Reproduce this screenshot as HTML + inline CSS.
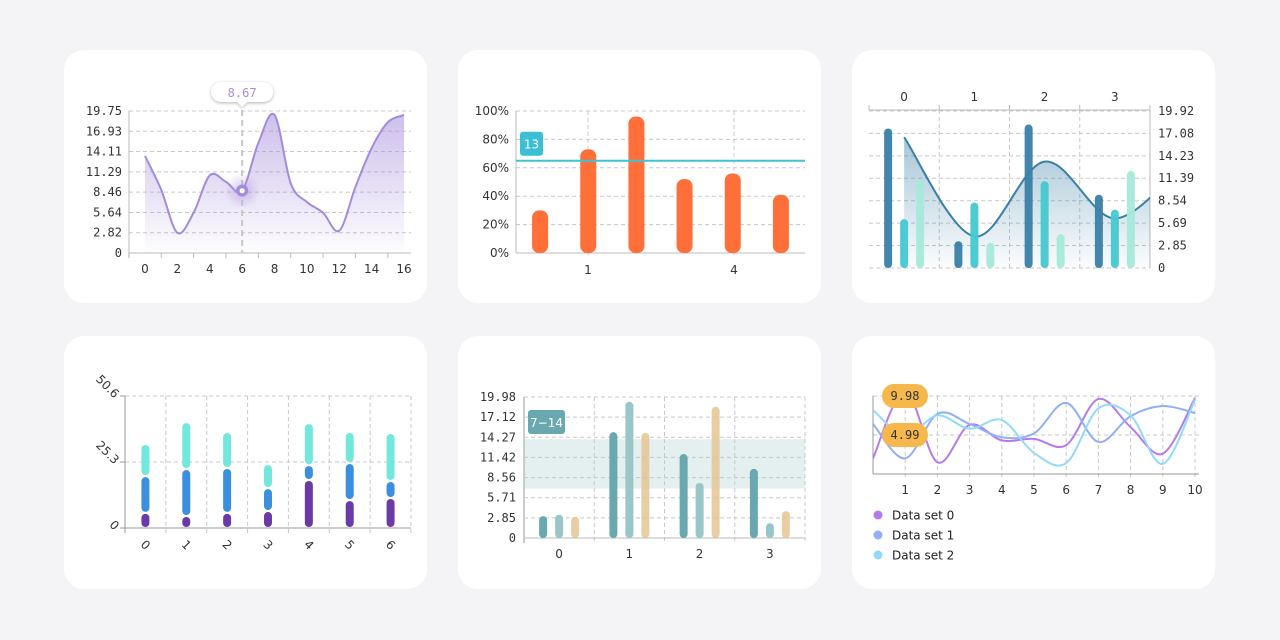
<!DOCTYPE html>
<html><head><meta charset="utf-8">
<style>
html,body{margin:0;padding:0;background:#f4f4f6;}
svg{display:block;}
.mono{font-family:"DejaVu Sans Mono","Liberation Mono",monospace;font-size:12px;fill:#333;}
.sans{font-family:"DejaVu Sans","Liberation Sans",sans-serif;font-size:12px;fill:#333;}
</style></head>
<body>
<svg id="root" width="1280" height="640" viewBox="0 0 1280 640">
<defs>
<linearGradient id="g1" x1="0" y1="0" x2="0" y2="1"><stop offset="0" stop-color="#a48bdb" stop-opacity="0.55"/><stop offset="1" stop-color="#a48bdb" stop-opacity="0.02"/></linearGradient>
<linearGradient id="g3" x1="0" y1="0" x2="0" y2="1"><stop offset="0" stop-color="#3a80a6" stop-opacity="0.45"/><stop offset="1" stop-color="#3a80a6" stop-opacity="0.02"/></linearGradient>
<radialGradient id="glow"><stop offset="0" stop-color="#a48bdb" stop-opacity="0.5"/><stop offset="1" stop-color="#a48bdb" stop-opacity="0"/></radialGradient>
<clipPath id="clip3"><rect x="869" y="100" width="281" height="170"/></clipPath>
<clipPath id="clip6"><rect x="873" y="380" width="326" height="96"/></clipPath>
<filter id="sh" x="-30%" y="-30%" width="160%" height="180%"><feDropShadow dx="0" dy="1" stdDeviation="1.5" flood-opacity="0.3"/></filter>
</defs>
<rect x="64" y="50" width="363" height="253" rx="20" fill="#fff"/>
<rect x="458" y="50" width="363" height="253" rx="20" fill="#fff"/>
<rect x="852" y="50" width="363" height="253" rx="20" fill="#fff"/>
<rect x="64" y="336" width="363" height="253" rx="20" fill="#fff"/>
<rect x="458" y="336" width="363" height="253" rx="20" fill="#fff"/>
<rect x="852" y="336" width="363" height="253" rx="20" fill="#fff"/>
</svg>
<script>
// ---- Chart 1 data
const c1Ticks = ["0","2.82","5.64","8.46","11.29","14.11","16.93","19.75"];
const c1Values = [13.5,8.8,2.8,5.6,10.8,9.9,8.67,15.3,19.2,9.7,7.1,5.6,3.1,9.2,14.6,18.2,19.2];
const c1XLabels = ["0","2","4","6","8","10","12","14","16"];
const c1Tooltip = "8.67";
// ---- Chart 2 data
const c2Values = [30,73,96,52,56,41];
const c2Ticks = ["0%","20%","40%","60%","80%","100%"];
const c2XLabels = ["1","4"];
const c2Line = 65;
const c2LineLabel = "13";
// ---- Chart 3 data
const c3Cats = ["0","1","2","3"];
const c3SeriesA = [17.7,3.4,18.2,9.3];
const c3SeriesB = [6.2,8.3,11.0,7.4];
const c3SeriesC = [11.1,3.2,4.3,12.3];
const c3Line = [16.6,4.0,13.5,6.3,13.5];
const c3Ticks = ["0","2.85","5.69","8.54","11.39","14.23","17.08","19.92"];
// ---- Chart 4 data
const c4Cats = ["0","1","2","3","4","5","6"];
const c4Bottom = [5.8,4.6,5.8,6.5,18.4,10.7,11.5];
const c4Middle = [14.1,18.0,17.2,8.8,5.7,14.2,6.5];
const c4Top = [12.3,18.0,13.8,9.2,16.1,11.9,18.4];
const c4Ticks = ["0","25.3","50.6"];
// ---- Chart 5 data
const c5Cats = ["0","1","2","3"];
const c5SeriesA = [3.1,15.0,11.9,9.8];
const c5SeriesB = [3.3,19.3,7.8,2.1];
const c5SeriesC = [3.0,14.9,18.6,3.8];
const c5Band = [7,14];
const c5BandLabel = "7−14";
const c5Ticks = ["0","2.85","5.71","8.56","11.42","14.27","17.12","19.98"];
// ---- Chart 6 data
const c6Set0 = [2.0,10.6,1.5,6.3,4.3,4.5,3.7,9.6,6.0,2.6,9.7];
const c6Set1 = [6.4,2.0,7.7,6.4,4.7,5.2,9.1,4.1,7.4,8.7,7.8];
const c6Set2 = [8.2,4.9,7.5,5.8,6.9,2.7,1.4,8.4,7.5,1.3,9.5];
const c6XLabels = ["1","2","3","4","5","6","7","8","9","10"];
const c6Ticks = ["4.99","9.98"];
const c6Legend = ["Data set 0","Data set 1","Data set 2"];

const NS = "http://www.w3.org/2000/svg";
const root = document.getElementById("root");
function mk(tag, attrs, parent){const e=document.createElementNS(NS,tag);for(const k in attrs)e.setAttribute(k,attrs[k]);(parent||root).appendChild(e);return e;}
function txt(s, attrs){const e=mk("text",attrs);e.textContent=s;return e;}
function smooth(p){let d="M"+p[0][0]+","+p[0][1];for(let i=0;i<p.length-1;i++){const p0=p[i-1]||p[i],p1=p[i],p2=p[i+1],p3=p[i+2]||p2;const c1x=p1[0]+(p2[0]-p0[0])/6,c1y=p1[1]+(p2[1]-p0[1])/6,c2x=p2[0]-(p3[0]-p1[0])/6,c2y=p2[1]-(p3[1]-p1[1])/6;d+=" C"+c1x+","+c1y+" "+c2x+","+c2y+" "+p2[0]+","+p2[1];}return d;}
const GRID={stroke:"#c8c8c8","stroke-dasharray":"4,3","stroke-width":1};
let e;

// ================= Chart 1
const c1Max=19.75;
const x1=i=>145+i*16.19, y1=v=>253-v/c1Max*142;
c1Ticks.forEach((t,i)=>{const v=parseFloat(t);const yy=y1(v);
 if(i>0){e=mk("line",Object.assign({x1:129,x2:411,y1:yy,y2:yy},GRID));
 
 }
 e=txt(t,{x:122,y:yy+4,"text-anchor":"end",class:"mono"});
 
 });
e=mk("line",{x1:129,x2:129,y1:111,y2:258,stroke:"#bbb"});


e=mk("line",{x1:129,x2:411,y1:253,y2:253,stroke:"#bbb"});


for(let k=0;k<=8;k++){e=mk("line",{x1:x1(2*k-1),x2:x1(2*k-1),y1:253,y2:258,stroke:"#bbb"});
 
 }
c1XLabels.forEach(l=>{e=txt(l,{x:x1(+l),y:273,"text-anchor":"middle",class:"sans"});
 
 });
const p1=c1Values.map((v,i)=>[x1(i),y1(v)]);
const d1=smooth(p1);
e=mk("path",{d:d1+" L"+x1(c1Values.length-1)+",253 L"+x1(0)+",253 Z",fill:"url(#g1)"});


e=mk("path",{d:d1,fill:"none",stroke:"#a48bdb","stroke-width":2});


const tipI=6, tx=x1(tipI), ty=y1(c1Values[tipI]);
e=mk("line",{x1:tx,x2:tx,y1:100,y2:253,stroke:"#c8c8c8","stroke-dasharray":"6,4","stroke-width":2});


e=mk("circle",{cx:tx,cy:ty,r:18,fill:"url(#glow)"});


e=mk("circle",{cx:tx,cy:ty,r:6,fill:"#a48bdb"});


mk("circle",{cx:tx,cy:ty,r:2.6,fill:"#fff"});
e=mk("path",{d:`M${tx-21},82 h42 a10,10 0 0 1 0,20 h-16 l-5,5 l-5,-5 h-16 a10,10 0 0 1 0,-20 Z`,fill:"#fff",filter:"url(#sh)"});


e=txt(c1Tooltip,{x:tx,y:97,"text-anchor":"middle",class:"mono",style:"fill:#a48bdb"});



// ================= Chart 2
const y2=v=>253-v/100*142, cw2=(805-516)/c2Values.length, x2=i=>516+cw2*(i+0.5);
c2Ticks.forEach((t,i)=>{const yy=y2(i*20);
 if(i>0){e=mk("line",Object.assign({x1:516,x2:805,y1:yy,y2:yy},GRID));
 
 }
 e=txt(t,{x:509,y:yy+4,"text-anchor":"end",class:"sans","font-size":13});
 
 });
c2XLabels.forEach(l=>{const gx=516+(+l)*cw2*1.5*0+ (l==="1"?72:218);
 e=mk("line",Object.assign({x1:gx,x2:gx,y1:111,y2:258},GRID));
 
 
 e=txt(l,{x:gx,y:274,"text-anchor":"middle",class:"sans","font-size":13});
 
 });
e=mk("line",{x1:516,x2:516,y1:111,y2:253,stroke:"#bbb"});


e=mk("line",{x1:516,x2:805,y1:253,y2:253,stroke:"#bbb"});


c2Values.forEach((v,i)=>{const yy=y2(v);
 e=mk("rect",{x:x2(i)-8,y:yy,width:16,height:253-yy,rx:7,fill:"#ff6f3a"});
 
 });
e=mk("line",{x1:516,x2:805,y1:y2(c2Line),y2:y2(c2Line),stroke:"#3bc4d6","stroke-width":2});


e=mk("rect",{x:520,y:y2(c2Line)-29,width:23,height:24,rx:3,fill:"#3bbfd4"});


e=txt(c2LineLabel,{x:531.5,y:y2(c2Line)-12,"text-anchor":"middle",class:"sans",style:"fill:#fff"});



// ================= Chart 3
const c3Max=19.92, y3=v=>268-v/c3Max*157, cw3=(1150-869)/c3Cats.length, x3=i=>869+cw3*(i+0.5);
c3Ticks.forEach(t=>{const yy=y3(parseFloat(t));
 e=mk("line",Object.assign({x1:869,x2:1150,y1:yy,y2:yy},GRID));
 
 
 e=txt(t,{x:1158,y:yy+4,class:"mono"});
 
 });
for(let k=0;k<=c3Cats.length;k++){const gx=869+cw3*k;
 if(k>0&&k<c3Cats.length){e=mk("line",Object.assign({x1:gx,x2:gx,y1:110,y2:268},GRID));
 
 }
 e=mk("line",{x1:gx,x2:gx,y1:105,y2:110,stroke:"#bbb"});
 
 }
c3Cats.forEach((c,i)=>{e=txt(c,{x:x3(i),y:101,"text-anchor":"middle",class:"sans"});
 
 });
e=mk("line",{x1:869,x2:1150,y1:110,y2:110,stroke:"#bbb"});


e=mk("line",{x1:1150,x2:1150,y1:110,y2:268,stroke:"#bbb"});


const p3=c3Line.map((v,i)=>[x3(i),y3(v)]);
const d3=smooth(p3);
const g3=mk("g",{"clip-path":"url(#clip3)"});
e=mk("path",{d:d3+" L"+p3[p3.length-1][0]+",268 L"+p3[0][0]+",268 Z",fill:"url(#g3)"},g3);


[[c3SeriesA,"#3a80a6",-16],[c3SeriesB,"#45c8d0",0],[c3SeriesC,"#a6e9d9",16]].forEach(([s,col,off])=>{
 s.forEach((v,i)=>{const yy=y3(v);
  e=mk("rect",{x:x3(i)+off-4,y:yy,width:8,height:268-yy,rx:4,fill:col,opacity:0.95});
  
  });});
e=mk("path",{d:d3,fill:"none",stroke:"#3a80a6","stroke-width":2},g3);



// ================= Chart 4
const c4Max=50.6, y4=v=>528-v/c4Max*132, cw4=(411-125)/c4Cats.length, x4=i=>125+cw4*(i+0.5);
c4Ticks.forEach(t=>{const yy=y4(parseFloat(t));
 if(parseFloat(t)>0){e=mk("line",Object.assign({x1:125,x2:411,y1:yy,y2:yy},GRID));
 
 }
 e=mk("line",{x1:120,x2:125,y1:yy,y2:yy,stroke:"#999"});
 
 
 e=txt(t,{x:117,y:yy+4,"text-anchor":"end",class:"sans",transform:`rotate(45 117 ${yy})`});
 
 });
for(let k=1;k<=c4Cats.length;k++){const gx=125+cw4*k;
 e=mk("line",Object.assign({x1:gx,x2:gx,y1:396,y2:533},GRID));
 
 }
e=mk("line",{x1:125,x2:125,y1:396,y2:533,stroke:"#999"});


e=mk("line",{x1:120,x2:411,y1:528,y2:528,stroke:"#999"});


c4Cats.forEach((c,i)=>{
 e=txt(c,{x:x4(i),y:549,"text-anchor":"middle",class:"sans",transform:`rotate(45 ${x4(i)} 545)`});
 
 
 let base=0;
 [[c4Bottom,"#6a3aa6"],[c4Middle,"#3a8fdf"],[c4Top,"#72e8dc"]].forEach(([s,col])=>{
  const y0=y4(base), yt=y4(base+s[i]);
  e=mk("rect",{x:x4(i)-4,y:yt+1,width:8,height:Math.max(y0-yt-2,1),rx:4,fill:col});
  
  
  base+=s[i];});});

// ================= Chart 5
const c5Max=19.98, y5=v=>538-v/c5Max*141, cw5=(805-524)/c5Cats.length, x5=i=>524+cw5*(i+0.5);
e=mk("rect",{x:524,y:y5(c5Band[1]),width:281,height:y5(c5Band[0])-y5(c5Band[1]),fill:"#e4eff0"});


c5Ticks.forEach(t=>{const yy=y5(parseFloat(t));
 if(parseFloat(t)>0){e=mk("line",Object.assign({x1:524,x2:805,y1:yy,y2:yy},GRID));
 
 }
 e=txt(t,{x:516,y:yy+4,"text-anchor":"end",class:"mono"});
 
 });
for(let k=1;k<=c5Cats.length;k++){const gx=524+cw5*k;
 e=mk("line",Object.assign({x1:gx,x2:gx,y1:397,y2:543},GRID));
 
 }
e=mk("line",{x1:524,x2:524,y1:397,y2:543,stroke:"#ccc","stroke-width":2});


e=mk("line",{x1:524,x2:805,y1:538,y2:538,stroke:"#bbb"});


c5Cats.forEach((c,i)=>{e=txt(c,{x:x5(i),y:558,"text-anchor":"middle",class:"sans"});
 
 });
[[c5SeriesA,"#6aa8b0",-16,1],[c5SeriesB,"#99c6c9",0,1],[c5SeriesC,"#e3c28c",16,0.8]].forEach(([s,col,off,op])=>{
 s.forEach((v,i)=>{const yy=y5(v);
  e=mk("rect",{x:x5(i)+off-4,y:yy,width:8,height:538-yy,rx:4,fill:col,opacity:op});
  
  });});
e=mk("rect",{x:528,y:410,width:37,height:24,rx:3,fill:"#6aa8b0"});


e=txt(c5BandLabel,{x:546.5,y:427,"text-anchor":"middle",class:"sans",style:"fill:#fff"});



// ================= Chart 6
const c6Max=9.98, y6=v=>474-v/c6Max*78, x6=i=>873+i*32.2;
[c6Max/2,c6Max].forEach(v=>{e=mk("line",Object.assign({x1:873,x2:1199,y1:y6(v),y2:y6(v)},GRID));
 
 });
c6XLabels.forEach(l=>{const gx=x6(+l);
 e=mk("line",Object.assign({x1:gx,x2:gx,y1:396,y2:478},GRID));
 
 
 e=txt(l,{x:gx,y:494,"text-anchor":"middle",class:"sans","font-size":13});
 
 });
e=mk("line",{x1:873,x2:873,y1:396,y2:474,stroke:"#999"});


e=mk("line",{x1:873,x2:1199,y1:474,y2:474,stroke:"#999"});


const g6=mk("g",{"clip-path":"url(#clip6)"});
const c6Colors=["#b57bee","#8fb0f8","#92d9fb"];
[c6Set0,c6Set1,c6Set2].forEach((s,k)=>{
 e=mk("path",{d:smooth(s.map((v,i)=>[x6(i),y6(v)])),fill:"none",stroke:c6Colors[k],"stroke-width":2},g6);
 
 });
c6Ticks.forEach(t=>{const yy=y6(parseFloat(t));
 e=mk("rect",{x:882,y:yy-12,width:46,height:24,rx:12,fill:"#f7b84b"});
 
 
 e=txt(t,{x:905,y:yy+4,"text-anchor":"middle",class:"mono","font-size":13});
 
 });
c6Legend.forEach((l,k)=>{const yy=515+k*20;
 e=mk("circle",{cx:878,cy:yy,r:4.5,fill:c6Colors[k]});
 
 
 e=txt(l,{x:892,y:yy+4.5,class:"sans","font-size":12,style:"fill:#222"});
 
 });
</script>
</body></html>
